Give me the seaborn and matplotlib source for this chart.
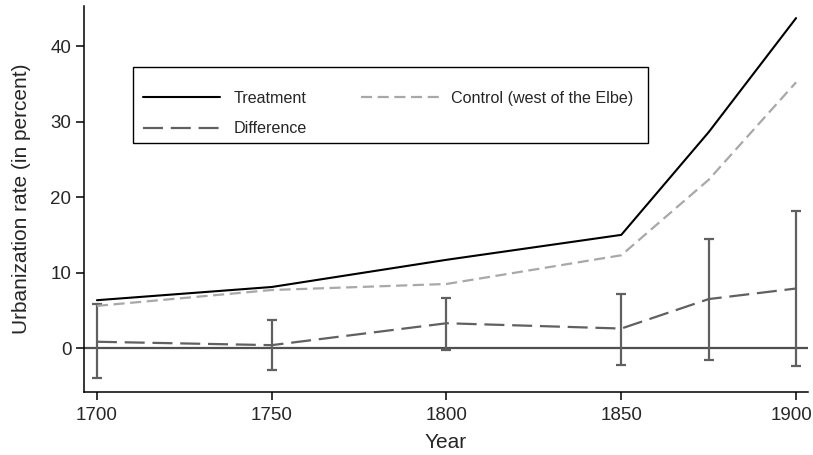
import matplotlib
matplotlib.use("Agg")
import matplotlib.pyplot as plt
from matplotlib.patches import Rectangle
import matplotlib.transforms as mtransforms
import seaborn as sns
import pandas as pd

years = [1700, 1750, 1800, 1850, 1875, 1900]
treatment = [6.35, 8.1, 11.7, 15.0, 28.6, 43.7]
control = [5.6, 7.7, 8.5, 12.3, 22.3, 35.2]
difference = [0.85, 0.4, 3.3, 2.6, 6.5, 7.9]
ci_low = [-4.0, -2.9, -0.2, -2.2, -1.6, -2.3]
ci_high = [5.8, 3.7, 6.7, 7.2, 14.4, 18.2]
xticks = [1700, 1750, 1800, 1850, 1900]
yticks = [0, 10, 20, 30, 40]

sns.set_style("ticks")
plt.rcParams['font.family'] = ['Liberation Sans', 'DejaVu Sans']

df = pd.DataFrame({"Year": years, "Treatment": treatment, "Control": control,
                   "Difference": difference, "lo": ci_low, "hi": ci_high})

fig = plt.figure(figsize=(8.13, 4.55), dpi=100)
ax = fig.add_axes([0.1033, 0.1385, 0.8905, 0.8483])

dark = "#606060"
ax.axhline(0, color="#505050", lw=1.6, zorder=1)

ax.errorbar(df["Year"], df["Difference"],
            yerr=[df["Difference"] - df["lo"], df["hi"] - df["Difference"]],
            fmt="none", ecolor=dark, elinewidth=1.6, capsize=3.8, capthick=1.6, zorder=2)

sns.lineplot(data=df, x="Year", y="Treatment", ax=ax, color="black", lw=1.5,
             label="Treatment", zorder=4)
sns.lineplot(data=df, x="Year", y="Difference", ax=ax, color=dark, lw=1.6,
             label="Difference", zorder=3)
sns.lineplot(data=df, x="Year", y="Control", ax=ax, color="#a8a8a8", lw=1.6,
             label="Control (west of the Elbe)", zorder=3)

for ln in ax.get_lines():
    lab = ln.get_label()
    if lab == "Difference":
        ln.set_dashes((9, 3.5))
    elif lab.startswith("Control"):
        ln.set_dashes((5, 2.5))

ax.set_xlim(1696.3, 1903.4)
ax.set_ylim(-5.8, 45.3)
ax.set_xticks(xticks)
ax.set_yticks(yticks)
ax.tick_params(axis="both", labelsize=13.5, length=5.5, width=1.1, color="black")
ax.tick_params(axis="x", pad=5)
ax.set_xlabel("Year", fontsize=15, labelpad=7)
ax.set_ylabel("Urbanization rate (in percent)", fontsize=15, labelpad=14)
for s in ["top", "right"]:
    ax.spines[s].set_visible(False)
for s in ["left", "bottom"]:
    ax.spines[s].set_color("black")
    ax.spines[s].set_linewidth(1.1)

# keep the last x tick label inside the figure
last = ax.xaxis.get_major_ticks()[-1].label1
last.set_transform(last.get_transform() +
                   mtransforms.ScaledTranslation(-5 / 100, 0, fig.dpi_scale_trans))

handles, labels = ax.get_legend_handles_labels()
if ax.get_legend() is not None:
    ax.get_legend().remove()

# legend frame (figure pixel box 133-648 x, 67-143 y)
W, H = 813.0, 455.0
fig.patches.append(Rectangle((133 / W, 1 - 143 / H), 515 / W, 76 / H,
                             transform=fig.transFigure, fill=True, facecolor="white",
                             edgecolor="black", lw=1.0, zorder=5))

order = [labels.index("Treatment"), labels.index("Difference"),
         labels.index("Control (west of the Elbe)")]
leg = fig.legend([handles[i] for i in order], [labels[i] for i in order],
                 ncol=2, loc="upper left", bbox_to_anchor=(143 / W, 1 - 91 / H),
                 bbox_transform=fig.transFigure,
                 frameon=False, fontsize=11.6, borderpad=0, borderaxespad=0,
                 handlelength=4.8, handletextpad=0.8, columnspacing=3.4,
                 labelspacing=0.95)
leg.set_zorder(6)

fig.savefig("out.png", dpi=100)
